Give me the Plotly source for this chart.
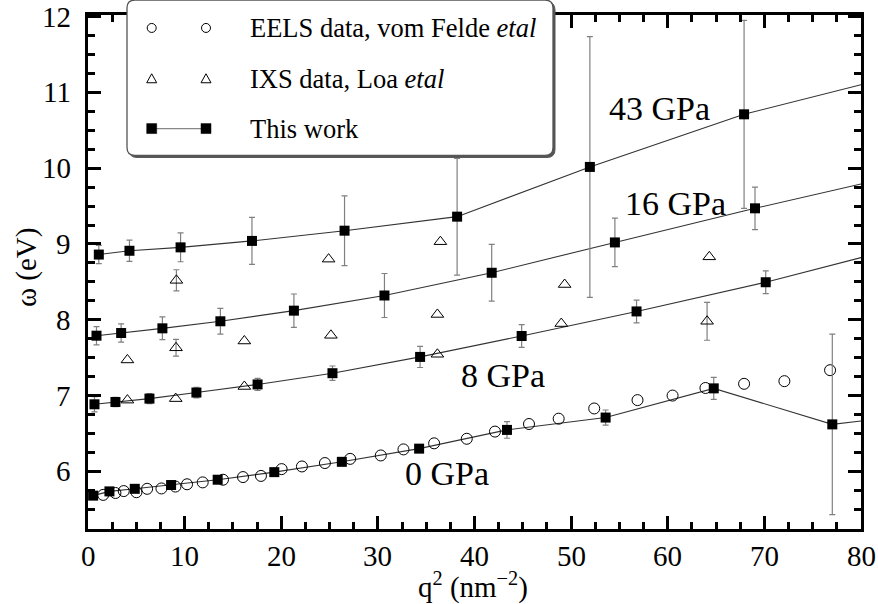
import plotly.graph_objects as go

# ---------------- data ----------------
# This work: plasmon energy vs q^2 at four pressures
p0_q2 = [0.53, 2.22, 4.84, 8.6, 13.42, 19.28, 26.27, 34.27, 43.36, 53.57, 64.76, 77.03]
p0_w = [5.68, 5.736, 5.77, 5.82, 5.89, 5.99, 6.126, 6.30, 6.547, 6.71, 7.095, 6.62]
p0_err = [0.04, 0.04, 0.04, 0.04, 0.04, 0.04, 0.04, 0.04, 0.11, 0.10, 0.145, 1.19]

p8_q2 = [0.67, 2.84, 6.36, 11.22, 17.55, 25.3, 34.37, 44.88, 56.77, 70.14]
p8_w = [6.885, 6.915, 6.96, 7.04, 7.147, 7.295, 7.51, 7.786, 8.11, 8.495]
p8_err = [0.10, 0.06, 0.065, 0.07, 0.08, 0.095, 0.14, 0.15, 0.15, 0.15]

p16_q2 = [0.88, 3.43, 7.70, 13.70, 21.31, 30.68, 41.78, 54.53, 69.03]
p16_w = [7.79, 7.825, 7.887, 7.98, 8.12, 8.32, 8.62, 9.02, 9.47]
p16_err = [0.12, 0.12, 0.15, 0.17, 0.22, 0.29, 0.375, 0.32, 0.28]

p43_q2 = [1.12, 4.29, 9.58, 16.97, 26.55, 38.2, 51.94, 67.9]
p43_w = [8.86, 8.91, 8.955, 9.04, 9.175, 9.36, 10.016, 10.71]
p43_err = [0.12, 0.14, 0.19, 0.31, 0.46, 0.77, 1.72, 1.24]

# value of each guide line at the right edge (q^2 = 80)
line_end_q2 = 80
line_end_w = {"0": 6.665, "8": 8.82, "16": 9.79, "43": 11.10}

# EELS data, vom Felde et al
eels_q2 = [1.57, 2.84, 3.7, 5.01, 6.12, 7.6, 9.05, 10.25, 11.87, 13.97, 16.04, 17.9,
           20.04, 22.14, 24.52, 27.13, 30.3, 32.65, 35.82, 39.2, 42.12, 45.64, 48.71,
           52.39, 56.87, 60.5, 63.9, 67.9, 72.07, 76.8]
eels_w = [5.69, 5.715, 5.74, 5.725, 5.77, 5.775, 5.80, 5.83, 5.855, 5.89, 5.925, 5.94,
          6.03, 6.065, 6.11, 6.165, 6.21, 6.29, 6.37, 6.43, 6.525, 6.625, 6.695,
          6.83, 6.94, 7.0, 7.10, 7.155, 7.19, 7.335]

# IXS data, Loa et al
ixs_q2 = [4.08, 9.08, 16.18, 36.16, 48.98, 64.07,
          4.08, 9.11, 16.18, 25.14, 36.16, 49.33, 64.3,
          9.15, 24.9, 36.47]
ixs_w = [6.94, 6.96, 7.12, 7.545, 7.95, 7.98,
         7.47, 7.63, 7.72, 7.795, 8.07, 8.465, 8.83,
         8.52, 8.80, 9.03]
ixs_err_q2 = [64.07, 9.11, 9.15]
ixs_err_w = [7.98, 7.63, 8.52]
ixs_err = [0.25, 0.11, 0.14]

pressure_labels = ["0 GPa", "8 GPa", "16 GPa", "43 GPa"]
label_q2 = [37.2, 42.95, 60.8, 59.1]
label_w = [5.975, 7.27, 9.54, 10.79]

x_ticks = [0, 10, 20, 30, 40, 50, 60, 70, 80]
y_ticks = [6, 7, 8, 9, 10, 11, 12]

legend_texts = ["EELS data, vom Felde <i>etal</i>", "IXS data, Loa <i>etal</i>", "This work"]

# ---------------- figure ----------------
W, H = 878, 604
ML, MR, MT, MB = 88, 17, 13, 75
PW, PH = W - ML - MR, H - MT - MB

LINE_COL = "#333333"
ERR_COL = "#808080"
SERIF = "Times New Roman"


def px(xp):
    return (xp - ML) / PW


def py(yp):
    return (MT + PH - yp) / PH


fig = go.Figure()

series = [(p0_q2, p0_w, p0_err, "0"), (p8_q2, p8_w, p8_err, "8"),
          (p16_q2, p16_w, p16_err, "16"), (p43_q2, p43_w, p43_err, "43")]

# guide lines
for q, w, e, key in series:
    fig.add_trace(go.Scatter(x=q + [line_end_q2], y=w + [line_end_w[key]], mode="lines",
                             line=dict(color=LINE_COL, width=1.1),
                             showlegend=False, hoverinfo="skip"))

# IXS error bars (only some points)
fig.add_trace(go.Scatter(x=ixs_err_q2, y=ixs_err_w, mode="markers",
                         marker=dict(size=1, opacity=0),
                         error_y=dict(type="data", array=ixs_err, color=ERR_COL,
                                      thickness=1.2, width=3),
                         showlegend=False, hoverinfo="skip"))

# EELS circles
fig.add_trace(go.Scatter(x=eels_q2, y=eels_w, mode="markers",
                         marker=dict(symbol="circle-open", size=11, color="black",
                                     line=dict(width=1)),
                         showlegend=False))
# IXS triangles
fig.add_trace(go.Scatter(x=ixs_q2, y=ixs_w, mode="markers",
                         marker=dict(symbol="triangle-up-open", size=11, color="black",
                                     line=dict(width=1)),
                         showlegend=False))

# This work squares with error bars
for q, w, e, key in series:
    fig.add_trace(go.Scatter(x=q, y=w, mode="markers",
                             marker=dict(symbol="square", size=10, color="black"),
                             error_y=dict(type="data", array=e, color=ERR_COL,
                                          thickness=1.2, width=3),
                             showlegend=False))

# pressure labels
for t, xq, yw in zip(pressure_labels, label_q2, label_w):
    fig.add_annotation(x=xq, y=yw, xref="x", yref="y", text=t, showarrow=False,
                       font=dict(family=SERIF, size=34, color="black"),
                       xanchor="center", yanchor="middle")

# tick labels (serif), placed on the axes' own scales
for v in x_ticks:
    fig.add_annotation(x=v, y=py(556), xref="x", yref="paper", text=str(v), showarrow=False,
                       font=dict(family=SERIF, size=29, color="black"),
                       xanchor="center", yanchor="middle")
for v in y_ticks:
    fig.add_annotation(x=px(73), y=v, xref="paper", yref="y", text=str(v), showarrow=False,
                       font=dict(family=SERIF, size=29, color="black"),
                       xanchor="right", yanchor="middle")

# axis titles
fig.add_annotation(x=px(473), y=py(586), xref="paper", yref="paper",
                   text="q<sup>2</sup> (nm<sup>−2</sup>)", showarrow=False,
                   font=dict(family=SERIF, size=29, color="black"),
                   xanchor="center", yanchor="middle")
fig.add_annotation(x=px(26), y=py(267), xref="paper", yref="paper",
                   text="ω (eV)", showarrow=False, textangle=-90,
                   font=dict(family=SERIF, size=29, color="black"),
                   xanchor="center", yanchor="middle")

# ---------------- custom legend (pixel positions) ----------------
def rounded_box(x0, y0, x1, y1, r):
    return (f"M {px(x0 + r)},{py(y0)} L {px(x1 - r)},{py(y0)} "
            f"Q {px(x1)},{py(y0)} {px(x1)},{py(y0 + r)} "
            f"L {px(x1)},{py(y1 - r)} Q {px(x1)},{py(y1)} {px(x1 - r)},{py(y1)} "
            f"L {px(x0 + r)},{py(y1)} Q {px(x0)},{py(y1)} {px(x0)},{py(y1 - r)} "
            f"L {px(x0)},{py(y0 + r)} Q {px(x0)},{py(y0)} {px(x0 + r)},{py(y0)} Z")


LB = dict(x0=127, y0=-2, x1=553, y1=154)
# shadow
fig.add_shape(type="path", xref="paper", yref="paper", layer="above",
              path=rounded_box(LB["x0"] + 2, LB["y0"] + 2, LB["x1"] + 2, LB["y1"] + 2, 8),
              fillcolor="#555555", line=dict(color="#555555", width=1))
fig.add_shape(type="path", xref="paper", yref="paper", layer="above",
              path=rounded_box(LB["x0"], LB["y0"], LB["x1"], LB["y1"], 8),
              fillcolor="white", line=dict(color="#555555", width=1.3))

sym_x = [151.7, 206]
row_y = [26, 77, 127]
for sx in sym_x:
    fig.add_shape(type="circle", xref="paper", yref="paper", layer="above",
                  xsizemode="pixel", ysizemode="pixel", xanchor=px(sx), yanchor=py(row_y[0]),
                  x0=-4.5, x1=4.5, y0=-4.5, y1=4.5, line=dict(color="black", width=1))
    fig.add_shape(type="path", xref="paper", yref="paper", layer="above",
                  xsizemode="pixel", ysizemode="pixel", xanchor=px(sx), yanchor=py(row_y[1]),
                  path="M -5,-4 L 5,-4 L 0,5 Z", line=dict(color="black", width=1))
fig.add_shape(type="line", xref="paper", yref="paper", layer="above",
              x0=px(sym_x[0]), x1=px(sym_x[1]), y0=py(row_y[2]), y1=py(row_y[2]),
              line=dict(color="#888888", width=1.3))
for sx in sym_x:
    fig.add_shape(type="rect", xref="paper", yref="paper", layer="above",
                  xsizemode="pixel", ysizemode="pixel", xanchor=px(sx), yanchor=py(row_y[2]),
                  x0=-5, x1=5, y0=-5, y1=5, fillcolor="black", line=dict(color="black", width=0.5))
for t, ry in zip(legend_texts, row_y):
    fig.add_annotation(x=px(248), y=py(ry), xref="paper", yref="paper", text=t,
                       showarrow=False, xanchor="left", yanchor="middle",
                       font=dict(family=SERIF, size=26.5, color="black"))

axis_common = dict(showline=True, linewidth=3, linecolor="black", mirror="allticks",
                   ticks="inside", ticklen=13, tickwidth=3, tickcolor="black",
                   showgrid=False, zeroline=False, showticklabels=False)

fig.update_xaxes(range=[0, 80], tickmode="array", tickvals=x_ticks,
                 minor=dict(ticks="inside", ticklen=7, tickwidth=2.5, dtick=2.5,
                            tick0=0, tickcolor="black", showgrid=False),
                 **axis_common)
fig.update_yaxes(range=[5.24, 12.02], tickmode="array", tickvals=y_ticks,
                 minor=dict(ticks="inside", ticklen=7, tickwidth=2.5, dtick=0.25,
                            tick0=0, tickcolor="black", showgrid=False),
                 **axis_common)

fig.update_layout(width=W, height=H, margin=dict(l=ML, r=MR, t=MT, b=MB),
                  font=dict(family=SERIF, color="black"),
                  paper_bgcolor="white", plot_bgcolor="white", showlegend=False)

fig.write_html("out.html")
